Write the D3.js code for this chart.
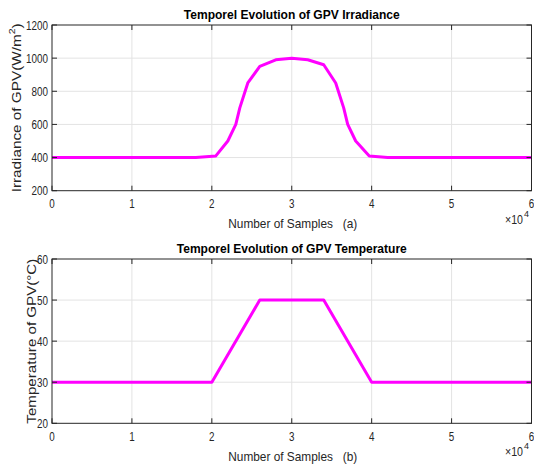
<!DOCTYPE html>
<html>
<head>
<meta charset="utf-8">
<script src="https://cdn.jsdelivr.net/npm/d3@7"></script>
<style>
  html, body { margin: 0; padding: 0; background: #fff; }
  svg { display: block; }
  text { font-family: "Liberation Sans", Arial, sans-serif; fill: #262626; }
</style>
</head>
<body>
<svg id="chart" width="534" height="470"></svg>
<script>
// Irradiance profile (W/m^2) against sample index
const irrSamples = [0, 18000, 20500, 22000, 23000, 23500, 24500, 26000, 28000, 30000,
                    32000, 34000, 35500, 36500, 37000, 38000, 39700, 42000, 60000];
const irrValues  = [400, 400, 410, 500, 600, 700, 850, 950, 990, 1000,
                    990, 960, 850, 700, 600, 500, 410, 400, 400];

// Temperature profile (°C) against sample index
const tempSamples = [0, 20000, 26000, 34000, 40000, 60000];
const tempValues  = [30, 30, 50, 50, 30, 30];

// Axis ticks
const xTicks = [0, 10000, 20000, 30000, 40000, 50000, 60000];
const xTickLabels = ["0", "1", "2", "3", "4", "5", "6"];
const irrTicks = [200, 400, 600, 800, 1000, 1200];
const tempTicks = [20, 30, 40, 50, 60];

const svg = d3.select("#chart");
const left = 52, right = 531.5;

// squeeze a text element horizontally to a narrower face
function condense(sel, f) {
  sel.each(function () {
    const w = this.getComputedTextLength();
    d3.select(this).attr("textLength", w * f).attr("lengthAdjust", "spacingAndGlyphs");
  });
}

function panel(cfg) {
  const x = d3.scaleLinear().domain([0, 60000]).range([left, right]);
  const y = d3.scaleLinear().domain(cfg.yDomain).range([cfg.bottom, cfg.top]);
  const g = svg.append("g");

  // grid
  g.append("g").selectAll("line").data(xTicks.slice(1, -1)).join("line")
    .attr("x1", d => x(d)).attr("x2", d => x(d))
    .attr("y1", cfg.top).attr("y2", cfg.bottom)
    .attr("stroke", "#e3e3e3").attr("stroke-width", 1);
  g.append("g").selectAll("line").data(cfg.yTicks.slice(1, -1)).join("line")
    .attr("x1", left).attr("x2", right)
    .attr("y1", d => y(d)).attr("y2", d => y(d))
    .attr("stroke", "#e3e3e3").attr("stroke-width", 1);

  // data line
  const pts = cfg.xs.map((v, i) => [v, cfg.ys[i]]);
  g.append("path").datum(pts)
    .attr("fill", "none").attr("stroke", "#ff00ff").attr("stroke-width", 3)
    .attr("stroke-linejoin", "round")
    .attr("d", d3.line().x(d => x(d[0])).y(d => y(d[1])));

  // box
  g.append("rect").attr("x", left).attr("y", cfg.top)
    .attr("width", right - left).attr("height", cfg.bottom - cfg.top)
    .attr("fill", "none").attr("stroke", "#262626").attr("stroke-width", 1);

  // ticks inward on all sides
  const tl = 5;
  g.append("g").selectAll("line").data(xTicks).join("line")
    .attr("x1", d => x(d)).attr("x2", d => x(d))
    .attr("y1", cfg.bottom).attr("y2", cfg.bottom - tl)
    .attr("stroke", "#262626");
  g.append("g").selectAll("line").data(xTicks).join("line")
    .attr("x1", d => x(d)).attr("x2", d => x(d))
    .attr("y1", cfg.top).attr("y2", cfg.top + tl)
    .attr("stroke", "#262626");
  g.append("g").selectAll("line").data(cfg.yTicks).join("line")
    .attr("x1", left).attr("x2", left + tl)
    .attr("y1", d => y(d)).attr("y2", d => y(d))
    .attr("stroke", "#262626");
  g.append("g").selectAll("line").data(cfg.yTicks).join("line")
    .attr("x1", right).attr("x2", right - tl)
    .attr("y1", d => y(d)).attr("y2", d => y(d))
    .attr("stroke", "#262626");

  // tick labels
  g.append("g").selectAll("text").data(xTicks).join("text")
    .attr("x", d => x(d)).attr("y", cfg.bottom + 17.5)
    .attr("text-anchor", "middle").attr("font-size", 12)
    .text((d, i) => xTickLabels[i])
    .call(condense, 0.82);
  g.append("g").selectAll("text").data(cfg.yTicks).join("text")
    .attr("x", left - 4).attr("y", d => y(d) + 4.5)
    .attr("text-anchor", "end").attr("font-size", 12)
    .text(d => d)
    .call(condense, 0.82);

  // title
  g.append("text").attr("x", (left + right) / 2).attr("y", cfg.top - 6)
    .attr("text-anchor", "middle").attr("font-size", 12.5).attr("font-weight", "bold")
    .style("fill", "#000")
    .attr("textLength", cfg.titleLen).attr("lengthAdjust", "spacingAndGlyphs")
    .text(cfg.title);

  // x label
  g.append("text").attr("x", (left + right) / 2 + 1).attr("y", cfg.bottom + 37.5)
    .attr("text-anchor", "middle").attr("font-size", 13)
    .attr("xml:space", "preserve").style("white-space", "pre")
    .attr("textLength", 129).attr("lengthAdjust", "spacingAndGlyphs")
    .text(cfg.xLabel);

  // axis multiplier ×10^4
  g.append("text").attr("x", 505).attr("y", cfg.bottom + 33)
    .attr("font-size", 12)
    .attr("textLength", 18).attr("lengthAdjust", "spacingAndGlyphs")
    .text("\u00d710");
  g.append("text").attr("x", 524).attr("y", cfg.bottom + 26)
    .attr("font-size", 9)
    .text("4");

  // y label
  const yl = g.append("text")
    .attr("transform", `translate(${cfg.yLabelX},${(cfg.top + cfg.bottom) / 2}) rotate(-90)`)
    .attr("text-anchor", "middle").attr("font-size", 13)
    .attr("textLength", cfg.yLabelLen).attr("lengthAdjust", "spacingAndGlyphs");
  cfg.yLabel(yl);
}

panel({
  top: 25, bottom: 190.7, yDomain: [200, 1200], yTicks: irrTicks,
  xs: irrSamples, ys: irrValues,
  title: "Temporel Evolution of GPV Irradiance", titleLen: 216,
  xLabel: "Number of Samples   (a)",
  yLabelX: 20.5, yLabelLen: 169,
  yLabel: t => {
    t.append("tspan").text("Irradiance of GPV(W/m");
    t.append("tspan").attr("dy", -6).attr("font-size", 9).text("2");
    t.append("tspan").attr("dy", 6).text(")");
  }
});

panel({
  top: 259, bottom: 423.3, yDomain: [20, 60], yTicks: tempTicks,
  xs: tempSamples, ys: tempValues,
  title: "Temporel Evolution of GPV Temperature", titleLen: 230,
  xLabel: "Number of Samples   (b)",
  yLabelX: 35.5, yLabelLen: 165,
  yLabel: t => { t.text("Temperature of GPV(\u00b0C)"); }
});
</script>
</body>
</html>
